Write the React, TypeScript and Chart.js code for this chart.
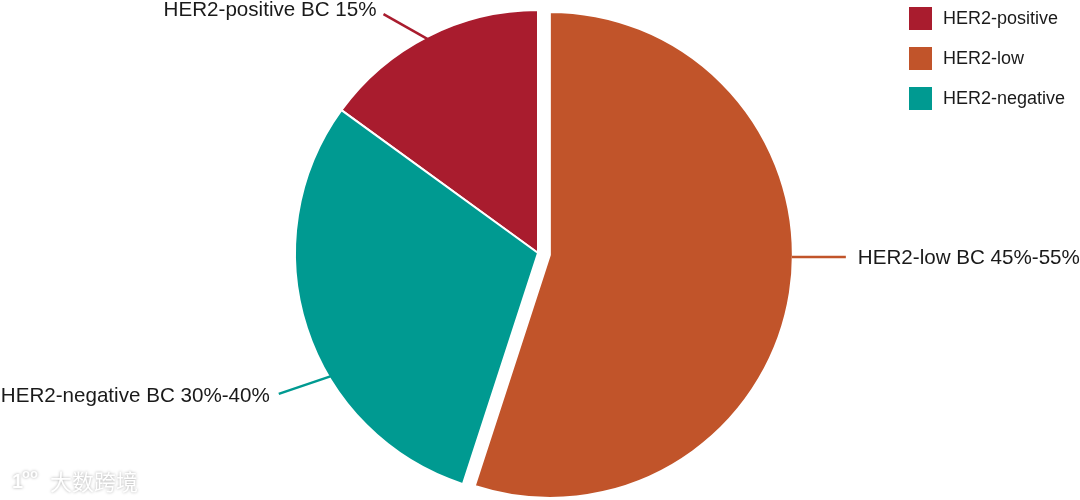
import React, { useEffect, useRef } from "react";
import { Chart, registerables } from "chart.js";

Chart.register(...registerables);

const categories = ["HER2-positive", "HER2-low", "HER2-negative"];
const shares = [15, 55, 30];
const calloutTexts = ["HER2-positive BC 15%", "HER2-low BC 45%-55%", "HER2-negative BC 30%-40%"];
const sliceColors = ["#A91C2E", "#C1542A", "#009A91"];
const explode = [0, 12, 0];

const FONT = "'Liberation Sans', Arial, sans-serif";

const explodePlugin = {
  id: "explodeSlices",
  afterDatasetsUpdate(chart: any) {
    const meta = chart.getDatasetMeta(0);
    meta.data.forEach((arc: any, i: number) => {
      const e = explode[i] || 0;
      if (!e) return;
      const mid = (arc.startAngle + arc.endAngle) / 2;
      arc.x += Math.cos(mid) * e;
      arc.y += Math.sin(mid) * e;
    });
  },
};

const calloutPlugin = {
  id: "callouts",
  afterDraw(chart: any) {
    const ctx = chart.ctx;
    const meta = chart.getDatasetMeta(0);
    const arcs = meta.data;
    ctx.save();
    ctx.lineWidth = 2.5;
    ctx.font = `20.6px ${FONT}`;
    ctx.fillStyle = "#1a1a1a";

    // positive (top-left)
    {
      const a = arcs[0];
      const ang = (a.startAngle + a.endAngle) / 2;
      const r = a.outerRadius - 4;
      const sx = a.x + Math.cos(ang) * r;
      const sy = a.y + Math.sin(ang) * r;
      const ex = sx - 46;
      const ey = sy - 26;
      ctx.strokeStyle = sliceColors[0];
      ctx.beginPath();
      ctx.moveTo(sx, sy);
      ctx.lineTo(ex, ey);
      ctx.stroke();
      ctx.textAlign = "right";
      ctx.textBaseline = "alphabetic";
      ctx.fillText(calloutTexts[0], ex - 7, ey + 2);
    }
    // low (right)
    {
      const a = arcs[1];
      const sx = a.x + a.outerRadius - 1;
      const sy = a.y + 2;
      const ex = sx + 54;
      ctx.strokeStyle = sliceColors[1];
      ctx.beginPath();
      ctx.moveTo(sx, sy);
      ctx.lineTo(ex, sy);
      ctx.stroke();
      ctx.textAlign = "left";
      ctx.textBaseline = "alphabetic";
      ctx.fillText(calloutTexts[1], ex + 12, sy + 7);
    }
    // negative (bottom-left)
    {
      const a = arcs[2];
      const ang = a.startAngle + 0.38 * (a.endAngle - a.startAngle);
      const r = a.outerRadius - 6;
      const sx = a.x + Math.cos(ang) * r;
      const sy = a.y + Math.sin(ang) * r;
      const ex = sx - 56;
      const ey = sy + 19;
      ctx.strokeStyle = sliceColors[2];
      ctx.beginPath();
      ctx.moveTo(sx, sy);
      ctx.lineTo(ex, ey);
      ctx.stroke();
      ctx.textAlign = "right";
      ctx.textBaseline = "alphabetic";
      ctx.fillText(calloutTexts[2], ex - 9, ey + 8);
    }

    // legend (top-right)
    ctx.font = `18px ${FONT}`;
    ctx.textAlign = "left";
    ctx.textBaseline = "middle";
    categories.forEach((label, i) => {
      const y = 7 + i * 40;
      ctx.fillStyle = sliceColors[i];
      ctx.fillRect(909, y, 23, 23);
      ctx.fillStyle = "#1a1a1a";
      ctx.fillText(label, 943, y + 12);
    });

    // watermark (bottom-left)
    ctx.shadowColor = "rgba(0,0,0,0.35)";
    ctx.shadowBlur = 3;
    ctx.fillStyle = "#ffffff";
    ctx.textBaseline = "alphabetic";
    ctx.font = `bold 20px ${FONT}`;
    ctx.fillText("1", 12, 488);
    ctx.font = `bold 13px ${FONT}`;
    ctx.fillText("oo", 22, 478);
    ctx.font = `22px 'Noto Sans CJK SC', sans-serif`;
    ctx.fillText("大数跨境", 50, 490);
    ctx.restore();
  },
};

export default function App() {
  const ref = useRef<HTMLCanvasElement | null>(null);
  useEffect(() => {
    if (!ref.current) return;
    const chart = new Chart(ref.current, {
      type: "pie",
      data: {
        labels: categories,
        datasets: [
          {
            data: shares,
            backgroundColor: sliceColors,
            borderColor: "#ffffff",
            borderWidth: 2,
          },
        ],
      },
      options: {
        responsive: false,
        animation: false,
        rotation: -(shares[0] / 100) * 360,
        radius: 243,
        layout: { padding: { top: 6, right: 4, left: 0, bottom: 0 } },
        plugins: {
          legend: { display: false },
          tooltip: { enabled: false },
        },
      } as any,
      plugins: [explodePlugin, calloutPlugin],
    });
    return () => chart.destroy();
  }, []);
  return (
    <div style={{ position: "fixed", left: 0, top: 0, width: 1080, height: 500, background: "#fff" }}>
      <canvas ref={ref} width={1080} height={500} style={{ display: "block" }} />
    </div>
  );
}
